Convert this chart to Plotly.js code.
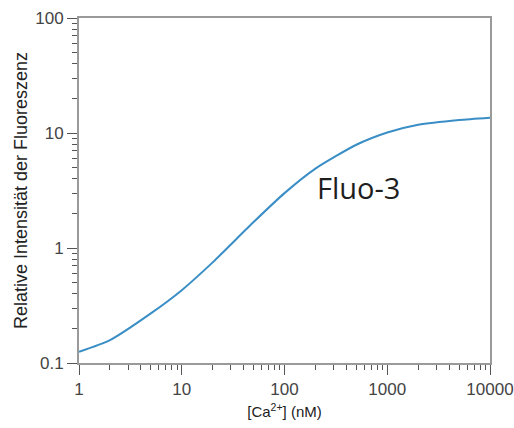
<!DOCTYPE html>
<html>
<head>
<meta charset="utf-8">
<script src="https://cdn.plot.ly/plotly-3.0.1.min.js"></script>
<style>html,body{margin:0;padding:0;background:#fff;}</style>
</head>
<body>
<div id="chart" style="width:514px;height:428px;"></div>
<script>
// Data (log-log)
const caConc = [1, 2, 5, 10, 20, 50, 100, 200, 500, 1000, 2000, 5000, 10000];
const fluo3 = [0.125, 0.158, 0.27, 0.43, 0.75, 1.68, 3.0, 4.9, 7.9, 10.1, 11.8, 13.0, 13.6];

const xTickVals = [1, 10, 100, 1000, 10000];
const xTickText = ['1', '10', '100', '1000', '10000'];
const yTickVals = [0.1, 1, 10, 100];
const yTickText = ['0.1', '1', '10', '100'];

function minorVals(lo, hi) {
  const out = [];
  for (let d = lo; d < hi; d *= 10) for (let k = 2; k <= 9; k++) out.push(d * k);
  return out;
}

const trace = {
  x: caConc, y: fluo3, type: 'scatter', mode: 'lines',
  line: {color: '#3a8ec6', width: 2, shape: 'spline', smoothing: 0.6},
  hoverinfo: 'none'
};

const axisCommon = {
  type: 'log', showgrid: false, zeroline: false,
  showline: true, linecolor: '#9a9a9a', linewidth: 2, mirror: true,
  ticks: 'outside', ticklen: 10, tickwidth: 1, tickcolor: '#555',
  tickfont: {family: 'Liberation Sans, Arial, sans-serif', size: 17, color: '#444'},
  tickmode: 'array'
};

const layout = {
  width: 514, height: 428,
  margin: {l: 79, r: 24, t: 18, b: 65},
  paper_bgcolor: '#fff', plot_bgcolor: '#fff',
  showlegend: false,
  xaxis: Object.assign({}, axisCommon, {
    range: [0, 4], tickvals: xTickVals, ticktext: xTickText,
    minor: {tickmode: 'array', tickvals: minorVals(1, 10000), ticks: 'outside', ticklen: 5, tickcolor: '#555', tickwidth: 1},
    title: {text: '[Ca<sup>2+</sup>] (nM)', standoff: 8,
      font: {family: 'Liberation Sans, Arial, sans-serif', size: 15, color: '#222'}}
  }),
  yaxis: Object.assign({}, axisCommon, {
    range: [-1, 2], tickvals: yTickVals, ticktext: yTickText,
    minor: {tickmode: 'array', tickvals: minorVals(0.1, 100), ticks: 'outside', ticklen: 5, tickcolor: '#555', tickwidth: 1},
    title: {text: 'Relative Intensität der Fluoreszenz', standoff: 3,
      font: {family: 'Liberation Sans, Arial, sans-serif', size: 18, color: '#222'}}
  }),
  annotations: [{
    text: 'Fluo-3', xref: 'paper', yref: 'paper', x: 0.679, y: 0.51,
    xanchor: 'center', yanchor: 'middle', showarrow: false,
    font: {family: 'Open Sans, sans-serif', size: 29, color: '#1e1e1e'}
  }]
};

Plotly.newPlot('chart', [trace], layout, {displayModeBar: false, staticPlot: true});
</script>
</body>
</html>
